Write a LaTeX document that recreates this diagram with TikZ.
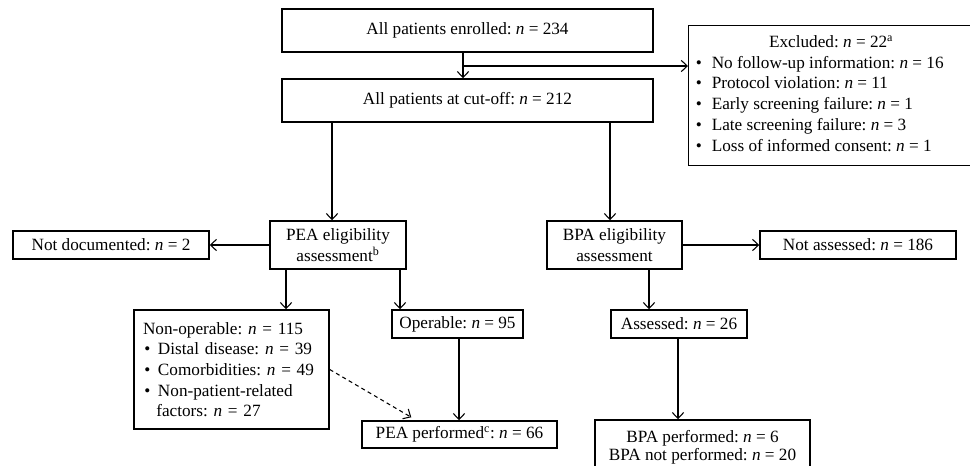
\documentclass[tikz,border=0pt]{standalone}
\usepackage{fontspec}
\setmainfont{Liberation Serif}
\usetikzlibrary{arrows.meta}
\newcommand\bulA{\makebox[12pt][l]{\textbullet}}
\newcommand\bulB{\makebox[11.25pt][l]{\hspace{1pt}\textbullet}}
\begin{document}
\frenchspacing
\begin{tikzpicture}[x=0.75pt,y=-0.75pt,
  txtfont/.style={font=\fontsize{12.9pt}{15.5pt}\selectfont\frenchspacing},
  box/.style={draw, line width=1.1pt, inner sep=0pt, txtfont, align=center},
  arr/.style={line width=0.8pt, -{Straight Barb[length=4.5pt,width=8.5pt]}},
  dasharr/.style={arr, dash pattern=on 3pt off 2.5pt}]
\useasboundingbox (0,0) rectangle (970,465);
\fill[white] (0,0) rectangle (970,465);

\node[box, minimum width=278.25pt, minimum height=32.25pt] (enrolled) at (467.5,30.5)
  {All patients enrolled: \textit{n} = 234};
\node[box, minimum width=278.25pt, minimum height=32.25pt] (cutoff) at (467.5,100.5)
  {All patients at cut-off: \textit{n} = 212};
\node[box, anchor=north west, minimum width=226.5pt, minimum height=105pt] (excluded) at (688,25) {};
\node[anchor=base west, inner sep=0pt, align=left,
  font=\fontsize{12.9pt}{15.6pt}\selectfont\frenchspacing] (excludedtext) at (695.5,151.3)
  {\hspace*{55pt}Excluded: \textit{n} = 22\textsuperscript{a}\\
   \bulA No follow-up information: \textit{n} = 16\\
   \bulA Protocol violation: \textit{n} = 11\\
   \bulA Early screening failure: \textit{n} = 1\\
   \bulA Late screening failure: \textit{n} = 3\\
   \bulA Loss of informed consent: \textit{n} = 1};

\node[box, minimum width=102pt, minimum height=36pt] (PEA) at (338,245)
  {PEA eligibility\\assessment\textsuperscript{b}};
\node[box, minimum width=147pt, minimum height=21pt] (notdoc) at (111,245)
  {Not documented: \textit{n} = 2};
\node[box, minimum width=101.25pt, minimum height=36pt] (BPA) at (614.5,245)
  {BPA eligibility\\assessment};
\node[box, minimum width=147pt, minimum height=21pt] (notass) at (858,245)
  {Not assessed: \textit{n} = 186};

\node[box, minimum width=146.25pt, minimum height=89.25pt, inner xsep=6.75pt,
  text width=132.75pt, align=left] (nonop) at (231.5,369.5)
  {Non-operable: \textit{n} = 115\\
   \bulB Distal disease: \textit{n} = 39\\
   \bulB Comorbidities: \textit{n} = 49\\
   \bulB Non-patient-related\\
   \hspace*{10pt}factors: \textit{n} = 27};
\node[box, minimum width=98.25pt, minimum height=21pt] (operable) at (457.5,324)
  {Operable: \textit{n} = 95};
\node[box, minimum width=146.25pt, minimum height=20.25pt] (peaperf) at (459.5,434.5)
  {PEA performed\textsuperscript{c}: \textit{n} = 66};
\node[box, minimum width=102pt, minimum height=21pt] (assessed) at (679,324)
  {Assessed: \textit{n} = 26};
\node[box, minimum width=161.25pt, minimum height=40.5pt,
  font=\fontsize{12.9pt}{13.7pt}\selectfont\frenchspacing] (bpaperf) at (702.5,447)
  {BPA performed: \textit{n} = 6\\BPA not performed: \textit{n} = 20};

\coordinate (split) at (463,66);
\coordinate (pl) at (332,0);
\coordinate (pr) at (610,0);
\coordinate (a1) at (286,0);
\coordinate (a2) at (400,0);
\coordinate (a3) at (649,0);
\coordinate (a4) at (678,0);
\coordinate (a5) at (459,0);

\draw[arr] (enrolled.south -| split) -- (cutoff.north -| split);
\draw[arr] (split) -- (split -| excluded.west);
\draw[arr] (cutoff.south -| pl) -- (PEA.north -| pl);
\draw[arr] (cutoff.south -| pr) -- (BPA.north -| pr);
\draw[arr] (PEA.west) -- (notdoc.east);
\draw[arr] (BPA.east) -- (notass.west);
\draw[arr] (PEA.south -| a1) -- (nonop.north -| a1);
\draw[arr] (PEA.south -| a2) -- (operable.north -| a2);
\draw[arr] (operable.south -| a5) -- (peaperf.north -| a5);
\draw[arr] (BPA.south -| a3) -- (assessed.north -| a3);
\draw[arr] (assessed.south -| a4) -- (bpaperf.north -| a4);
\draw[dasharr] (nonop.east) -- ([xshift=37.5pt,yshift=2.25pt]peaperf.north west);
\end{tikzpicture}
\end{document}
